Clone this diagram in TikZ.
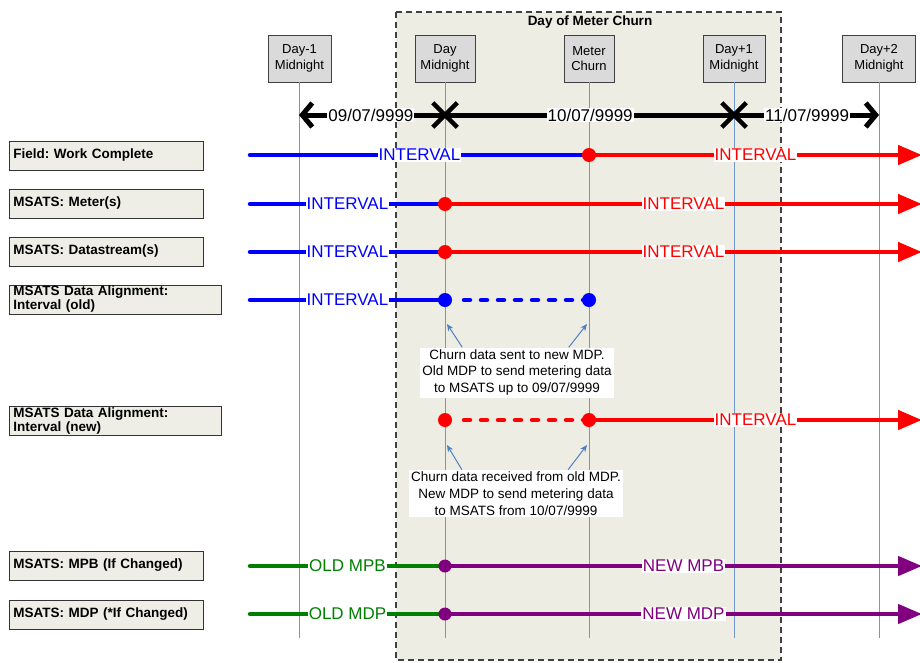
\documentclass[tikz,border=0pt]{standalone}
\usepackage{fontspec}
\setmainfont{Liberation Sans}
\usepackage{xcolor}
\usepackage{tikz}
\usetikzlibrary{arrows.meta,positioning,calc,shapes.misc}
\definecolor{churnbg}{RGB}{237,237,228}
\definecolor{daygray}{RGB}{218,218,218}
\definecolor{labelbg}{RGB}{238,238,230}
\definecolor{lineblue}{RGB}{112,152,208}
\definecolor{noteblue}{RGB}{79,129,189}
\definecolor{oldgreen}{RGB}{0,128,0}
\definecolor{newpurple}{RGB}{128,0,128}
\frenchspacing

\begin{document}
\begin{tikzpicture}[x=1pt,y=-1pt,
    daybox/.style={draw=black!75, fill=daygray, line width=0.8pt, align=center,
        minimum height=47pt, inner sep=1pt, font=\fontsize{13}{15.5}\selectfont},
    rowlabel/.style={draw=black!80, fill=labelbg, line width=0.8pt, anchor=west,
        align=left, minimum height=29pt, inner xsep=4pt, inner ysep=0pt,
        font=\bfseries\fontsize{13.5}{14}\selectfont},
    dayline/.style={draw=lineblue, line width=1pt},
    lane/.style={draw=#1, line width=4.5pt, line cap=round},
    lanearrow/.style={draw=#1, line width=4.5pt, -{Triangle[length=24pt,width=19pt]}},
    lanedash/.style={lane=#1, dash pattern=on 6pt off 11pt, dash phase=-6pt},
    lanedot/.style={circle, fill=#1, inner sep=0pt, minimum size=14pt},
    lanetext/.style={fill=white, text=#1, inner sep=1pt, font=\fontsize{17}{17}\selectfont},
    datetext/.style={fill=white, inner sep=1pt, font=\fontsize{17}{17}\selectfont},
    note/.style={fill=white, align=center, inner sep=2pt, font=\fontsize{13.5}{16.7}\selectfont},
    notearrow/.style={draw=noteblue, line width=1pt, -{Stealth[length=7pt,width=6pt]}}
]
    \useasboundingbox (0,0) rectangle (920,662);
    \clip (0,0) rectangle (920,662);

    % Day of meter churn
    \draw[fill=churnbg, draw=black!75, line width=1.2pt, dash pattern=on 6pt off 4pt]
        (396,12) rectangle (781,660);
    \node[font=\bfseries\fontsize{13.5}{14}\selectfont] (churn) at (590,22) {Day of Meter Churn};

    % Day markers
    \node[daybox, minimum width=63pt] (dm1) at (299.5,58.5) {Day-1\\Midnight};
    \node[daybox, minimum width=60pt] (d0) at (445,58.5) {Day\\Midnight};
    \node[daybox, minimum width=50pt] (mc) at (589,58.5) {Meter\\Churn};
    \node[daybox, minimum width=62pt] (dp1) at (734,58.5) {Day+1\\Midnight};
    \node[daybox, minimum width=73pt] (dp2) at (879,58.5) {Day+2\\Midnight};
    \foreach \d in {dm1,d0,mc,dp1,dp2}
        \draw[dayline] (\d.south) -- ++(0,556);

    % Dates
    \coordinate (tl) at (299,115);
    \coordinate (tr) at (879,115);
    \draw[line width=5pt, {Straight Barb[length=10pt,width=24pt]}-{Straight Barb[length=10pt,width=24pt]}]
        (tl) -- (tr)
        node[datetext, pos=0.124] {09/07/9999}
        node[datetext, pos=0.502] {10/07/9999}
        node[datetext, pos=0.876] {11/07/9999};
    \node[cross out, draw, line width=4.5pt, minimum size=20pt, inner sep=0pt] (xd0) at (445,115) {};
    \node[cross out, draw, line width=4.5pt, minimum size=20pt, inner sep=0pt] (xdp1) at (734,115) {};

    % Row labels
    \node[rowlabel, text width=186pt] (lbfield) at (9,155.5) {Field: Work Complete};
    \node[rowlabel, text width=186pt] (lbmeter) at (9,203.5) {MSATS: Meter(s)};
    \node[rowlabel, text width=186pt] (lbstream) at (9,251.5) {MSATS: Datastream(s)};
    \node[rowlabel, text width=204pt] (lbold) at (9,299.5) {MSATS Data Alignment:\\Interval (old)};
    \node[rowlabel, text width=204pt] (lbnew) at (9,420.5) {MSATS Data Alignment:\\Interval (new)};
    \node[rowlabel, text width=186pt] (lbmpb) at (9,565.5) {MSATS: MPB (If Changed)};
    \node[rowlabel, text width=186pt] (lbmdp) at (9,614.5) {MSATS: MDP (*If Changed)};

    % Field: Work Complete
    \coordinate (fs) at (250,155);
    \coordinate (fc) at (589,155);
    \coordinate (fe) at (922,155);
    \draw[lane=blue] (fs) -- (fc) node[lanetext=blue, midway] {INTERVAL};
    \draw[lanearrow=red] (fc) -- (fe) node[lanetext=red, midway] {INTERVAL};
    \node[lanedot=red] (fcdot) at (fc) {};

    % Meter(s)
    \coordinate (ms) at (250,204);
    \coordinate (mc0) at (445,204);
    \coordinate (me) at (922,204);
    \draw[lane=blue] (ms) -- (mc0) node[lanetext=blue, midway] {INTERVAL};
    \draw[lanearrow=red] (mc0) -- (me) node[lanetext=red, midway] {INTERVAL};
    \node[lanedot=red] (mcdot) at (mc0) {};

    % Datastream(s)
    \coordinate (ss) at (250,252);
    \coordinate (sc) at (445,252);
    \coordinate (se) at (922,252);
    \draw[lane=blue] (ss) -- (sc) node[lanetext=blue, midway] {INTERVAL};
    \draw[lanearrow=red] (sc) -- (se) node[lanetext=red, midway] {INTERVAL};
    \node[lanedot=red] (scdot) at (sc) {};

    % Interval (old)
    \coordinate (os) at (250,300);
    \coordinate (oc) at (445,300);
    \coordinate (oe) at (589,300);
    \draw[lane=blue] (os) -- (oc) node[lanetext=blue, midway] {INTERVAL};
    \draw[lanedash=blue] (oc) ++(13,0) -- (oe);
    \node[lanedot=blue] (ocdot) at (oc) {};
    \node[lanedot=blue] (oedot) at (oe) {};

    % Interval (new)
    \coordinate (nc) at (445,420);
    \coordinate (nm) at (589,420);
    \coordinate (ne) at (922,420);
    \draw[lanedash=red] (nc) ++(13,0) -- (nm);
    \draw[lanearrow=red] (nm) -- (ne) node[lanetext=red, midway] {INTERVAL};
    \node[lanedot=red] (ncdot) at (nc) {};
    \node[lanedot=red] (nmdot) at (nm) {};

    % MPB
    \coordinate (ps) at (250,566);
    \coordinate (pc) at (445,566);
    \coordinate (pe) at (922,566);
    \draw[lane=oldgreen] (ps) -- (pc) node[lanetext=oldgreen, midway] {OLD MPB};
    \draw[lanearrow=newpurple] (pc) -- (pe) node[lanetext=newpurple, midway] {NEW MPB};
    \node[lanedot=newpurple, minimum size=13pt] (pcdot) at (pc) {};

    % MDP
    \coordinate (ds) at (250,614);
    \coordinate (dc) at (445,614);
    \coordinate (de) at (922,614);
    \draw[lane=oldgreen] (ds) -- (dc) node[lanetext=oldgreen, midway] {OLD MDP};
    \draw[lanearrow=newpurple] (dc) -- (de) node[lanetext=newpurple, midway] {NEW MDP};
    \node[lanedot=newpurple, minimum size=13pt] (dcdot) at (dc) {};

    % Notes
    \node[note] (sent) at (517,372.5) {Churn data sent to new MDP.\\Old MDP to send metering data\\to MSATS up to 09/07/9999};
    \coordinate (sentl) at (447,324);
    \coordinate (sentr) at (587,324);
    \draw[notearrow] ($(sent.north west)+(42,0)$) -- (sentl);
    \draw[notearrow] ($(sent.north east)+(-45,0)$) -- (sentr);

    \node[note] (recv) at (516,493.5) {Churn data received from old MDP.\\New MDP to send metering data\\to MSATS from 10/07/9999};
    \coordinate (recvl) at (447,445);
    \coordinate (recvr) at (587,445);
    \draw[notearrow] ($(recv.north west)+(53,0)$) -- (recvl);
    \draw[notearrow] ($(recv.north east)+(-55,0)$) -- (recvr);
\end{tikzpicture}
\end{document}
